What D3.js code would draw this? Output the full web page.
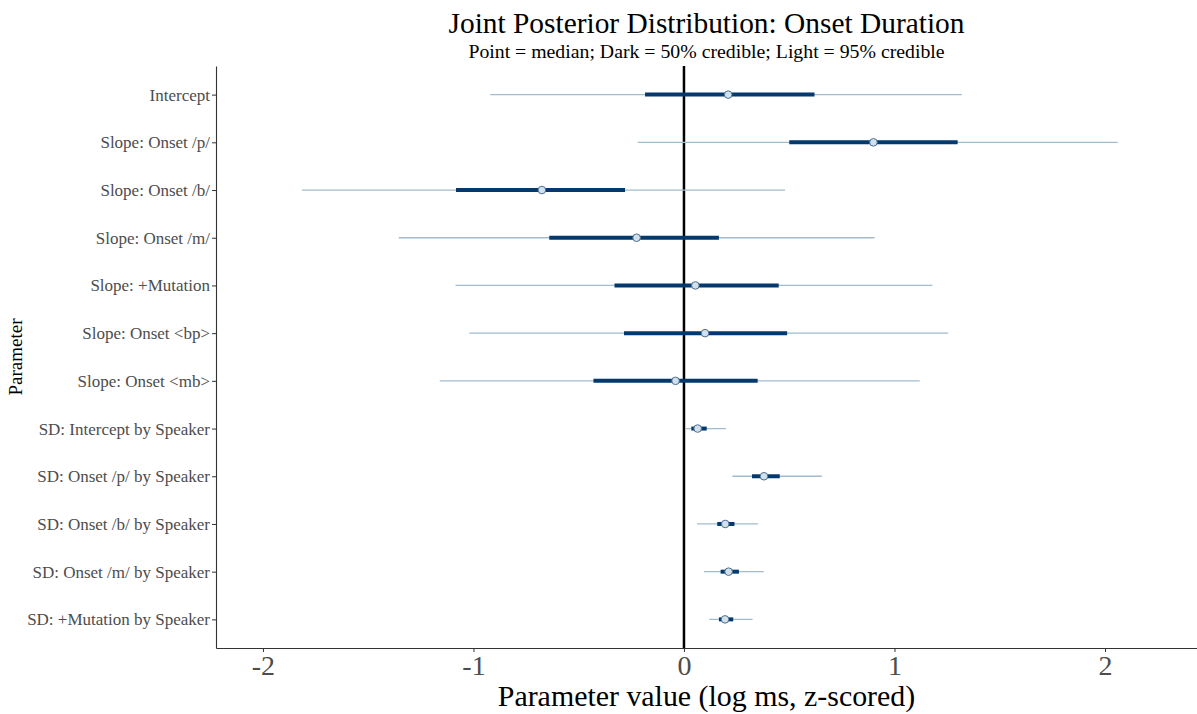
<!DOCTYPE html>
<html>
<head>
<meta charset="utf-8">
<script src="https://d3js.org/d3.v7.min.js"></script>
<style>
  body { margin: 0; background: #fff; }
  svg text { font-family: "Liberation Serif", "Times New Roman", Times, serif !important; }
</style>
</head>
<body>
<div id="chart"></div>
<script>
// parameter names, top to bottom
var params = ["Intercept", "Slope: Onset /p/", "Slope: Onset /b/", "Slope: Onset /m/",
  "Slope: +Mutation", "Slope: Onset <bp>", "Slope: Onset <mb>",
  "SD: Intercept by Speaker", "SD: Onset /p/ by Speaker", "SD: Onset /b/ by Speaker",
  "SD: Onset /m/ by Speaker", "SD: +Mutation by Speaker"];
// 95% interval
var ll = [-0.92, -0.22, -1.815, -1.355, -1.085, -1.02, -1.16, 0.01, 0.23, 0.062, 0.095, 0.12];
var hh = [1.32, 2.06, 0.48, 0.905, 1.18, 1.255, 1.12, 0.20, 0.655, 0.352, 0.379, 0.326];
// 50% interval
var l = [-0.185, 0.50, -1.083, -0.64, -0.33, -0.285, -0.43, 0.035, 0.323, 0.158, 0.174, 0.166];
var h = [0.62, 1.30, -0.28, 0.166, 0.45, 0.49, 0.35, 0.108, 0.455, 0.24, 0.261, 0.234];
// medians
var med = [0.21, 0.90, -0.675, -0.225, 0.054, 0.10, -0.04, 0.065, 0.38, 0.196, 0.212, 0.195];
var xTicks = [-2, -1, 0, 1, 2];

var W = 1197, H = 714;
var margin = {top: 66, right: 0, bottom: 66, left: 216};
var iw = W - margin.left - margin.right;
var ih = H - margin.top - margin.bottom;
var FONT = "'Liberation Serif', 'Times New Roman', Times, serif";

var svg = d3.select("#chart").append("svg")
  .attr("width", W).attr("height", H)
  .attr("font-family", FONT);

var g = svg.append("g")
  .attr("transform", "translate(" + margin.left + "," + margin.top + ")");

var x = d3.scaleLinear().domain([-2.223, 2.437]).range([0, iw]);
var y = d3.scalePoint().domain(params).range([0, ih]).padding(0.6);

var rows = params.map(function(p, i) {
  return {name: p, ll: ll[i], hh: hh[i], l: l[i], h: h[i], m: med[i]};
});

// zero line
g.append("line")
  .attr("x1", x(0)).attr("x2", x(0))
  .attr("y1", 0).attr("y2", ih)
  .attr("stroke", "#000").attr("stroke-width", 2.5);

// outer intervals
g.selectAll(".outer").data(rows).enter().append("line")
  .attr("class", "outer")
  .attr("x1", function(d) { return x(d.ll); })
  .attr("x2", function(d) { return x(d.hh); })
  .attr("y1", function(d) { return y(d.name); })
  .attr("y2", function(d) { return y(d.name); })
  .attr("stroke", "#9fbcd1").attr("stroke-width", 1.3);

// inner intervals
g.selectAll(".inner").data(rows).enter().append("line")
  .attr("class", "inner")
  .attr("x1", function(d) { return x(d.l); })
  .attr("x2", function(d) { return x(d.h); })
  .attr("y1", function(d) { return y(d.name); })
  .attr("y2", function(d) { return y(d.name); })
  .attr("stroke", "#03396c").attr("stroke-width", 4);

// medians
g.selectAll(".pt").data(rows).enter().append("circle")
  .attr("class", "pt")
  .attr("cx", function(d) { return x(d.m); })
  .attr("cy", function(d) { return y(d.name); })
  .attr("r", 3.8)
  .attr("fill", "#d1e1ec")
  .attr("stroke", "#4f6e8f").attr("stroke-width", 1);

// axes
var xAxis = g.append("g")
  .attr("transform", "translate(0," + ih + ")")
  .call(d3.axisBottom(x).tickValues(xTicks).tickFormat(function(d) { return String(d); })
    .tickSize(4).tickSizeOuter(0).tickPadding(3));
xAxis.attr("font-family", FONT);
xAxis.select(".domain").attr("stroke", "#333").attr("stroke-width", 1.1);
xAxis.selectAll(".tick line").attr("stroke", "#333");
xAxis.selectAll(".tick text")
  .attr("fill", "#4d4d4d")
  .style("font-size", "28px");

var yAxis = g.append("g")
  .call(d3.axisLeft(y).tickSize(4).tickSizeOuter(0).tickPadding(2));
yAxis.attr("font-family", FONT);
yAxis.select(".domain").attr("stroke", "#333").attr("stroke-width", 1.1);
yAxis.selectAll(".tick line").attr("stroke", "#333");
yAxis.selectAll(".tick text")
  .attr("fill", "#4d4d4d")
  .style("font-size", "17px");

// titles
var cx = margin.left + iw / 2;
svg.append("text")
  .attr("x", cx).attr("y", 33)
  .attr("text-anchor", "middle")
  .style("font-size", "29.4px")
  .text("Joint Posterior Distribution: Onset Duration");

svg.append("text")
  .attr("x", cx).attr("y", 58)
  .attr("text-anchor", "middle")
  .style("font-size", "19.8px")
  .text("Point = median; Dark = 50% credible; Light = 95% credible");

svg.append("text")
  .attr("x", cx).attr("y", 706)
  .attr("text-anchor", "middle")
  .style("font-size", "29.9px")
  .text("Parameter value (log ms, z-scored)");

svg.append("text")
  .attr("transform", "translate(22," + (margin.top + ih / 2) + ") rotate(-90)")
  .attr("text-anchor", "middle")
  .style("font-size", "19px")
  .text("Parameter");
</script>
</body>
</html>
